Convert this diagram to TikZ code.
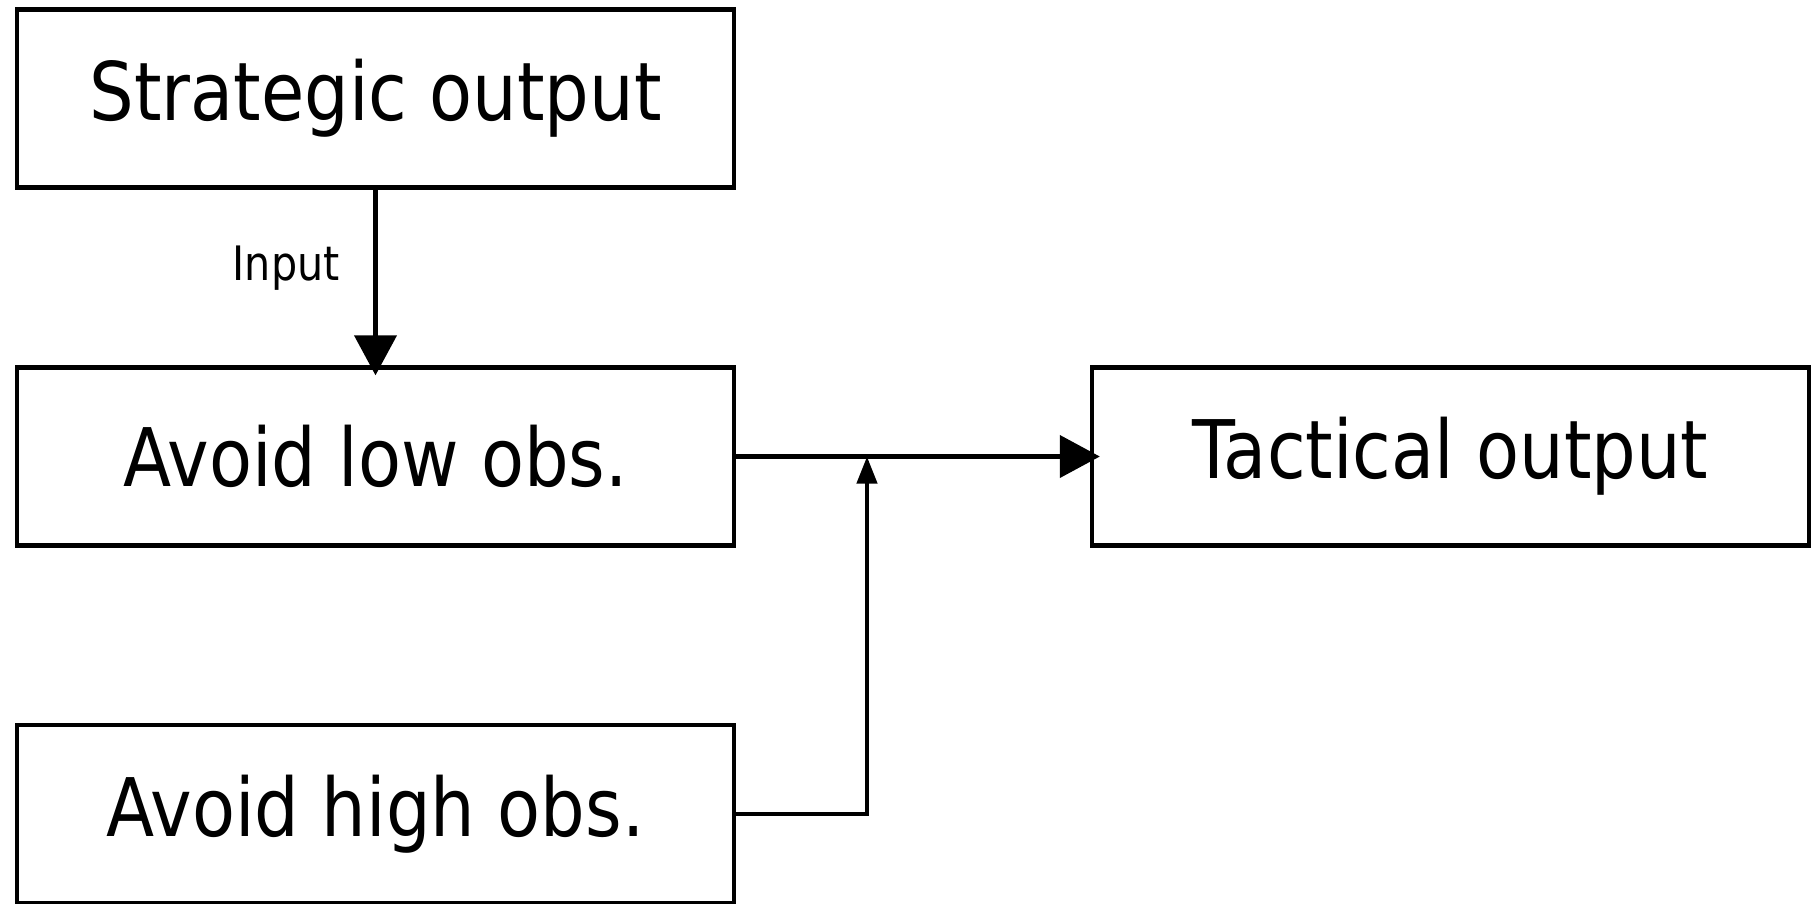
\documentclass[tikz,border=0pt]{standalone}
\usepackage{fontspec}
\setmainfont{DejaVu Sans}[FakeStretch=0.87]
\usetikzlibrary{
    arrows.meta,
    positioning
}

\begin{document}
\begin{tikzpicture}[x=1cm, y=1cm,
    blockbox/.style={draw, line width=1.25pt, minimum width=7.17cm, minimum height=1.78cm,
        inner sep=0pt, font=\fontsize{23}{26}\selectfont},
    bigarrow/.style={line width=1.2pt, -{Triangle[length=0.4cm, width=0.42cm]}},
    smallarrow/.style={line width=1.2pt, -{Triangle[length=0.27cm, width=0.2cm]}}]
                                \useasboundingbox (0, 0) rectangle (18.16, -9.03);
                                \node[blockbox] (strat) at (3.755, -0.985) {Strategic output};
                                \node[blockbox] (low) at (3.755, -4.565) {Avoid low obs.};
                                \node[blockbox] (high) at (3.755, -8.14) {Avoid high obs.};
                                \node[blockbox] (tact) at (14.505, -4.565) {Tactical output};
                                \coordinate (join) at (8.67, -4.565);
                                \draw[bigarrow] (strat.south) -- node[pos=0.42, left=0.22cm, font=\fontsize{13.5}{15}\selectfont] (inlbl) {Input} ([yshift=-0.1cm]low.north);
                                \draw[bigarrow] (low.east) -- ([xshift=0.1cm]tact.west);
                                \draw[smallarrow] (high.east) -| (join);
                            \end{tikzpicture}
\end{document}
